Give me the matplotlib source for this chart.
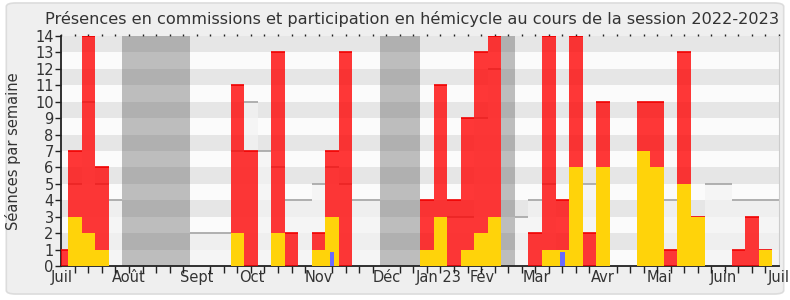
import numpy as np
import matplotlib
matplotlib.use("Agg")
import matplotlib.pyplot as plt
from matplotlib.patches import FancyBboxPatch

# one value per week of the session (week 0 .. 53)
weeks = np.arange(54)
commission = [1, 7, 14, 6, 0, 0, 0, 0, 0, 0,
              0, 0, 0, 11, 7, 0, 13, 2, 0, 2,
              7, 13, 0, 0, 0, 0, 0, 4, 11, 4,
              9, 13, 14, 0, 0, 2, 14, 4, 14, 2,
              10, 0, 0, 10, 10, 1, 13, 3, 0, 0,
              1, 3, 1, 0]
hemicycle = [0, 3, 2, 1, 0, 0, 0, 0, 0, 0,
             0, 0, 0, 2, 0, 0, 2, 0, 0, 1,
             3, 0, 0, 0, 0, 0, 0, 1, 3, 0,
             1, 2, 3, 0, 0, 0, 1, 1, 6, 0,
             6, 0, 0, 7, 6, 0, 5, 3, 0, 0,
             0, 0, 1, 0]
questions = {20: 0.85, 37: 0.85}
mediane = [0, 5, 10, 5, 4, 0, 0, 0, 0, 0,
           2, 2, 2, 7, 10, 7, 6, 4, 4, 5,
           6, 5, 4, 4, 0, 0, 0, 0, 0, 3,
           3, 9, 12, 0, 3, 4, 5, 0, 0, 5,
           0, 0, 0, 0, 0, 4, 0, 0, 5, 5,
           4, 4, 4, 4]
vacances = [5, 6, 7, 8, 9, 24, 25, 26, 33]

mois = ['Juil', 'Août', 'Sept', 'Oct', 'Nov', 'Déc', 'Jan 23', 'Fév',
        'Mar', 'Avr', 'Mai', 'Juin', 'Juil']
mois_pos = [0, 4.95, 10, 14.1, 19, 24, 27.9, 31.1, 35.1, 40, 44.2, 48.9, 53]

fig = plt.figure(figsize=(7.9, 3.0), dpi=100, facecolor='white')
# rounded light grey panel behind everything
fig.patches.append(FancyBboxPatch((0.008, 0.02), 0.984, 0.97,
                                  boxstyle='round,pad=0,rounding_size=0.012',
                                  transform=fig.transFigure, facecolor='#efefef',
                                  edgecolor='#dcdcdc', linewidth=1.2, zorder=-10))

ax = fig.add_axes([61.3 / 790, 34 / 300, (779 - 61.3) / 790, 230 / 300])
ax.set_facecolor('#fbfbfb')

# horizontal bands
for k in range(14):
    ax.axhspan(k, k + 1, color='#e6e6e6' if k % 2 else '#fbfbfb', lw=0, zorder=0)

# holidays
for w in vacances:
    ax.bar(w, 14, width=1, color='#606060', alpha=0.4, lw=0, zorder=1)

# median of all deputies
ax.bar(weeks, mediane, width=1, color='#f3f3f3', alpha=0.7, lw=0, zorder=1.5)
for w, m in zip(weeks, mediane):
    if m > 0:
        ax.hlines(m, w - 0.5, w + 0.5, color='#aaaaaa', lw=1.3, zorder=2)

# commission + hemicycle
ax.bar(weeks, commission, width=1, color='#ff0000', alpha=0.78, lw=0, zorder=3)
for w, v in zip(weeks, commission):
    if v > 0:
        ax.hlines(v, w - 0.5, w + 0.5, color='#f00000', lw=1.2, zorder=3.5)
ax.bar(weeks, hemicycle, width=1, color='#ffd30a', lw=0, zorder=4)
ax.bar(list(questions.keys()), list(questions.values()), width=0.33,
       color='#6a6aff', lw=0, zorder=5)

ax.set_xlim(0, 53)
ax.set_ylim(0, 14)

ax.set_yticks(range(15))
ax.tick_params(axis='y', length=4, width=1, pad=1.5, labelsize=10.5,
               colors='#222222', labelcolor='#333333')
ax.set_xticks(mois_pos)
ax.set_xticklabels(mois, fontsize=10.5, color='#333333')
ax.set_xticks(weeks, minor=True)
ax.tick_params(axis='x', which='major', length=0, pad=3)
ax.tick_params(axis='x', which='minor', length=5, width=1, color='#222222')

# tiny week marks along the top edge
top = ax.secondary_xaxis('top')
top.set_xticks(weeks)
top.set_xticklabels([])
top.tick_params(length=1.5, width=1, color='#222222')
top.spines['top'].set_visible(False)

ax.spines['top'].set_visible(False)
ax.spines['right'].set_color('#cccccc')
ax.spines['left'].set_color('#222222')
ax.spines['bottom'].set_color('#222222')
ax.spines['left'].set_linewidth(1.3)
ax.spines['bottom'].set_linewidth(1.3)

ax.set_ylabel('Séances par semaine', fontsize=10.5, color='#333333', labelpad=10)
fig.text(412 / 790, 1 - 19 / 300,
         'Présences en commissions et participation en hémicycle au cours de la session 2022-2023',
         ha='center', va='center', fontsize=11.6, color='#333333')

fig.savefig('out.png', dpi=100, facecolor=fig.get_facecolor())
